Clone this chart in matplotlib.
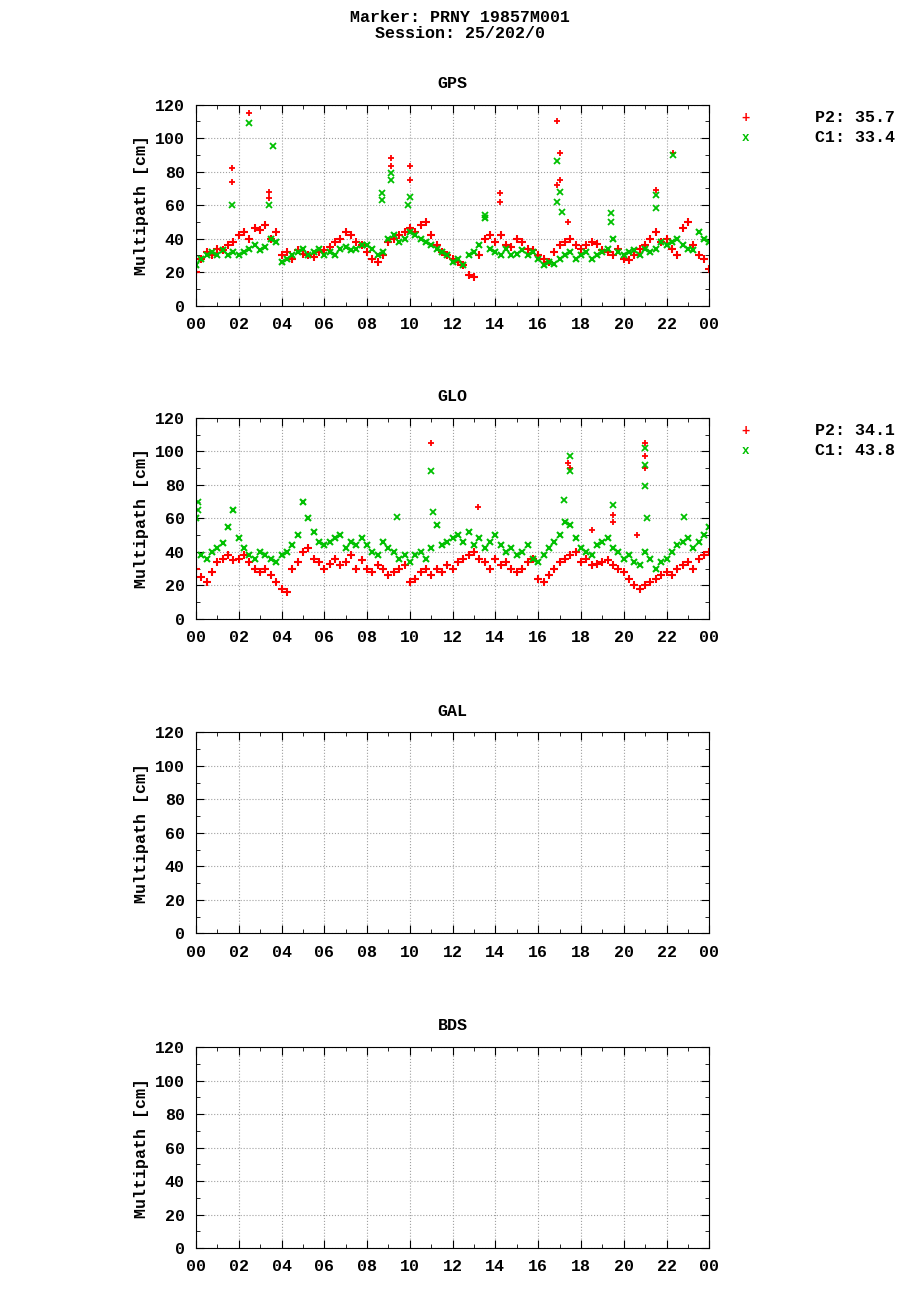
import numpy as np
import matplotlib.pyplot as plt

plt.rcParams["font.family"] = "Liberation Mono"
plt.rcParams["font.weight"] = "bold"
plt.rcParams["axes.labelweight"] = "bold"
plt.rcParams["axes.titleweight"] = "bold"
plt.rcParams["font.size"] = 12

hours = np.arange(0, 24.01, 0.25)

gps_p2 = [20, 28, 32, 30, 34, 33, 36, 38, 42, 44, 40, 46, 45, 48, 40, 44,
          30, 32, 28, 33, 31, 30, 29, 32, 33, 35, 38, 40, 44, 42, 38, 36,
          32, 28, 26, 30, 38, 40, 42, 44, 46, 44, 48, 50, 42, 36, 32, 30,
          28, 26, 24, 18, 17, 30, 40, 42, 38, 42, 36, 35, 40, 38, 34, 33,
          30, 28, 26, 32, 36, 38, 40, 36, 34, 36, 38, 37, 33, 32, 30, 34,
          28, 27, 30, 34, 36, 40, 44, 38, 40, 34, 30, 46, 50, 36, 30, 28, 22]
gps_c1 = [24, 28, 30, 32, 30, 33, 30, 32, 30, 32, 34, 36, 33, 35, 40, 38,
          26, 28, 30, 32, 34, 30, 32, 34, 30, 32, 30, 34, 35, 33, 34, 36,
          36, 34, 30, 32, 40, 42, 38, 40, 44, 42, 40, 38, 36, 34, 32, 30,
          26, 28, 24, 30, 32, 36, 52, 34, 32, 30, 34, 30, 31, 33, 30, 32,
          28, 24, 26, 25, 28, 30, 32, 28, 30, 32, 28, 30, 32, 34, 40, 32,
          30, 32, 33, 30, 34, 32, 34, 38, 36, 38, 40, 36, 34, 33, 44, 40, 38]
gps_p2_out_t = [1.7, 1.7, 2.5, 3.4, 3.4, 9.1, 9.1, 10.0, 10.0, 14.2, 14.2,
                16.9, 16.9, 17.0, 17.0, 17.4, 21.5, 22.3]
gps_p2_out_v = [82, 74, 115, 68, 64, 88, 83, 83, 75, 67, 62,
                110, 72, 91, 75, 50, 69, 91]
gps_c1_out_t = [1.7, 2.5, 3.4, 3.6, 8.7, 8.7, 9.1, 9.1, 9.9, 10.0, 13.5,
                16.9, 17.0, 16.9, 17.1, 19.4, 19.4, 21.5, 21.5, 22.3]
gps_c1_out_v = [60, 109, 60, 95, 67, 63, 79, 75, 60, 65, 54,
                86, 68, 62, 56, 55, 50, 66, 58, 90]

glo_p2 = [30, 25, 22, 28, 34, 36, 38, 35, 36, 38, 34, 30, 28, 30, 26, 22,
          18, 16, 30, 34, 40, 42, 36, 34, 30, 33, 36, 32, 34, 38, 30, 35,
          30, 28, 32, 30, 26, 28, 30, 32, 22, 24, 28, 30, 26, 30, 28, 32,
          30, 34, 36, 38, 40, 36, 34, 30, 36, 32, 34, 30, 28, 30, 34, 36,
          24, 22, 26, 30, 34, 36, 38, 40, 34, 36, 32, 33, 34, 35, 32, 30,
          28, 24, 20, 18, 20, 22, 24, 26, 28, 26, 30, 32, 34, 30, 36, 38, 40]
glo_c1 = [60, 38, 36, 40, 42, 45, 55, 65, 48, 42, 38, 36, 40, 38, 36, 34,
          38, 40, 44, 50, 70, 60, 52, 46, 44, 46, 48, 50, 42, 46, 44, 48,
          44, 40, 38, 46, 42, 40, 36, 38, 34, 38, 40, 36, 42, 56, 44, 46,
          48, 50, 46, 52, 44, 48, 42, 46, 50, 44, 40, 42, 38, 40, 44, 36,
          34, 38, 42, 46, 50, 58, 56, 48, 42, 40, 38, 44, 46, 48, 42, 40,
          36, 38, 34, 32, 40, 36, 30, 34, 36, 40, 44, 46, 48, 42, 46, 50, 55]
glo_p2_out_t = [11.0, 13.2, 17.4, 17.5, 19.5, 19.5, 21.0, 21.0, 21.0, 20.6, 18.5]
glo_p2_out_v = [105, 67, 93, 90, 62, 58, 105, 97, 90, 50, 53]
glo_c1_out_t = [0.1, 0.1, 9.4, 11.0, 11.1, 17.2, 17.5, 17.5, 19.5, 21.0, 21.0,
                21.0, 21.1, 22.8]
glo_c1_out_v = [70, 65, 61, 88, 64, 71, 97, 88, 68, 102, 92, 79, 60, 61]

legend_vals = {"GPS": (35.7, 33.4), "GLO": (34.1, 43.8)}
tick_labels = ["%02d" % (h % 24) for h in range(0, 25, 2)]

red = "#ff0000"
green = "#00c000"

fig = plt.figure(figsize=(9.2, 13), dpi=100)
fig.text(0.5, 0.992, "Marker: PRNY 19857M001\nSession: 25/202/0",
         ha="center", va="top", fontsize=12, fontweight="bold", linespacing=1.05)

systems = ["GPS", "GLO", "GAL", "BDS"]
bottoms = [0.765, 0.524, 0.282, 0.040]
data = {
    "GPS": (gps_p2, gps_c1, gps_p2_out_t, gps_p2_out_v, gps_c1_out_t, gps_c1_out_v),
    "GLO": (glo_p2, glo_c1, glo_p2_out_t, glo_p2_out_v, glo_c1_out_t, glo_c1_out_v),
}

for name, b in zip(systems, bottoms):
    ax = fig.add_axes([0.213, b, 0.558, 0.1546])
    if name in data:
        p2, c1, pt, pv, ct, cv = data[name]
        ax.plot(hours, p2, "+", color=red, ms=6, mew=1.5)
        ax.plot(pt, pv, "+", color=red, ms=5, mew=1.3)
        ax.plot(hours, c1, "x", color=green, ms=5, mew=1.5)
        ax.plot(ct, cv, "x", color=green, ms=4, mew=1.3)
        ytop = b + 0.1546
        v1, v2 = legend_vals[name]
        fig.text(0.81, ytop - 0.010, "+", color=red, ha="center", va="center", fontsize=10)
        fig.text(0.81, ytop - 0.0255, "x", color=green, ha="center", va="center", fontsize=9)
        fig.text(0.973, ytop - 0.010, "P2: %.1f" % v1, ha="right", va="center")
        fig.text(0.973, ytop - 0.0255, "C1: %.1f" % v2, ha="right", va="center")
    ax.set_xlim(0, 24)
    ax.set_ylim(0, 120)
    ax.set_xticks(range(0, 25, 2))
    ax.set_xticklabels(tick_labels, fontweight="bold")
    ax.set_xticks(range(0, 25, 1), minor=True)
    ax.set_yticks(range(0, 121, 20))
    ax.set_yticklabels([str(v) for v in range(0, 121, 20)], fontweight="bold")
    ax.set_yticks(range(0, 121, 10), minor=True)
    ax.tick_params(which="both", direction="in", top=True, right=True)
    ax.tick_params(which="major", length=6, pad=8)
    ax.tick_params(which="minor", length=3)
    ax.grid(which="major", color="#a0a0a0", linestyle=":", linewidth=0.8)
    ax.set_axisbelow(True)
    ax.set_ylabel("Multipath [cm]", fontweight="bold")
    ax.set_title(name, fontsize=12, fontweight="bold", pad=12)

fig.savefig("out.png", dpi=100)
